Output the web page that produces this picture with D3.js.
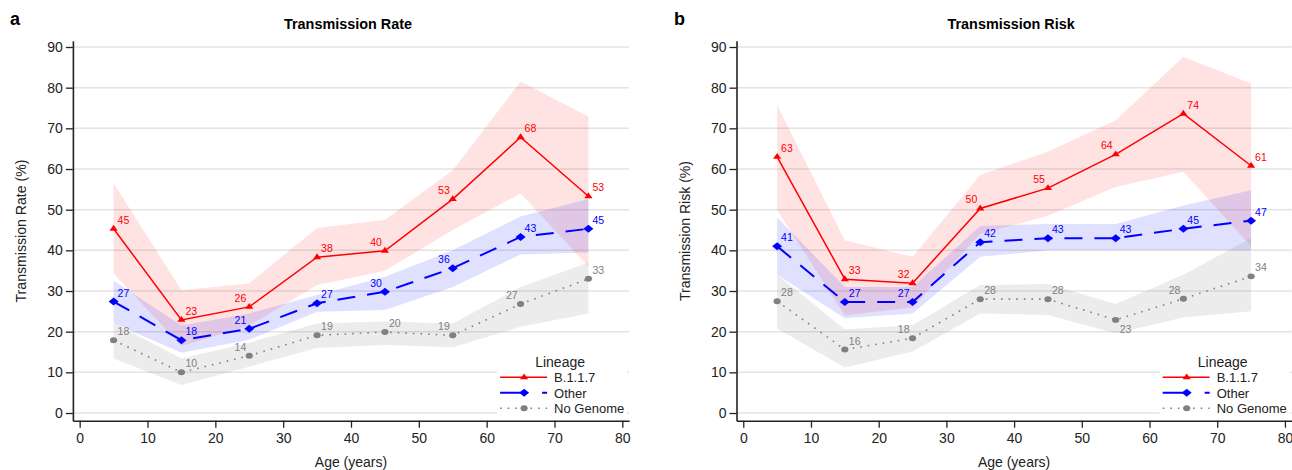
<!DOCTYPE html>
<html>
<head>
<meta charset="utf-8">
<script src="https://cdn.jsdelivr.net/npm/d3@7"></script>
<style>
  body { margin: 0; background: #fff; }
  svg { display: block; font-family: "Liberation Sans", Arial, sans-serif; }
</style>
</head>
<body>
<svg id="chart" width="1292" height="470"></svg>
<script>
// ages at which each group is plotted
var ages = [5, 15, 25, 35, 45, 55, 65, 75];
var yTicks = [0, 10, 20, 30, 40, 50, 60, 70, 80, 90];
var xTicks = [0, 10, 20, 30, 40, 50, 60, 70, 80];
var lineages = ["B.1.1.7", "Other", "No Genome"];

// panel a - transmission rate (%)
var rateB117   = [45.3, 22.9, 26.1, 38.3, 39.9, 52.6, 67.8, 53.3];
var rateB117Lo = [34.3, 16.5, 21.5, 31.5, 35.0, 45.0, 54.0, 36.0];
var rateB117Hi = [56.5, 30.2, 31.9, 45.5, 47.5, 59.7, 81.5, 72.9];
var rateOther   = [27.4, 17.9, 20.7, 27.0, 29.8, 35.6, 43.3, 45.3];
var rateOtherLo = [22.1, 14.8, 18.0, 24.9, 25.3, 31.0, 39.0, 39.5];
var rateOtherHi = [32.5, 21.5, 24.5, 29.0, 33.5, 40.0, 48.3, 52.6];
var rateNone   = [17.9, 10.0, 14.1, 19.1, 19.9, 19.1, 26.8, 33.0];
var rateNoneLo = [13.4, 6.9, 11.4, 16.0, 16.7, 16.2, 21.2, 24.5];
var rateNoneHi = [22.1, 13.4, 17.3, 22.0, 22.5, 22.0, 31.0, 37.0];

// panel b - transmission risk (%)
var riskB117   = [63.0, 32.9, 31.9, 50.3, 55.3, 63.6, 73.6, 60.8];
var riskB117Lo = [49.9, 24.0, 26.0, 44.0, 48.5, 55.6, 59.3, 41.0];
var riskB117Hi = [75.7, 42.5, 38.4, 58.5, 64.3, 72.0, 87.6, 81.0];
var riskOther   = [41.0, 27.3, 27.3, 42.0, 43.0, 43.0, 45.3, 47.3];
var riskOtherLo = [34.0, 23.3, 24.5, 38.4, 40.0, 40.0, 40.0, 40.0];
var riskOtherHi = [48.1, 31.0, 31.0, 46.0, 46.5, 46.5, 51.0, 54.8];
var riskNone   = [27.5, 15.6, 18.4, 28.0, 28.0, 22.9, 28.1, 33.6];
var riskNoneLo = [20.8, 11.2, 15.1, 24.5, 24.1, 19.6, 23.5, 25.0];
var riskNoneHi = [34.0, 20.6, 21.6, 31.5, 31.7, 26.8, 34.0, 43.0];

// where each value label sits relative to its point: r = up-right, l = up-left, b = below-right
var sideRate = [
  ["r","r","l","r","l","l","r","r"],
  ["r","r","l","r","l","l","r","r"],
  ["r","r","l","r","r","l","l","r"]
];
var sideRisk = [
  ["r","r","l","l","l","l","r","r"],
  ["r","r","l","r","r","r","r","r"],
  ["r","r","l","r","r","b","l","r"]
];

// markers are a bit wider than tall in the original, hence the x-scale
var styles = [
  { color: "#ff0000", band: "rgba(255,0,0,0.11)", width: 1.5, dash: null,
    symbol: d3.symbolTriangle, size: 20, shape: "scale(1.2,1)" },
  { color: "#0000ff", band: "rgba(0,0,255,0.12)", width: 2, dash: "18,12",
    symbol: d3.symbolSquare, size: 32, shape: "scale(1.25,1) rotate(45)" },
  { color: "#808080", band: "rgba(128,128,128,0.15)", width: 1.6, dash: "1.6,6",
    symbol: d3.symbolCircle, size: 28, shape: "scale(1.2,1)" }
];

var svg = d3.select("#chart");

function drawPanel(opt) {
  var x = d3.scaleLinear().domain([-1, 81]).range([opt.left, opt.right]);
  var y = d3.scaleLinear().domain([-1.89, 91.55]).range([420.7, 40.7]);
  var g = svg.append("g");

  // gridlines
  g.selectAll(".grid").data(yTicks).enter().append("line")
    .attr("x1", opt.left).attr("x2", opt.right)
    .attr("y1", d => y(d)).attr("y2", d => y(d))
    .attr("stroke", "#e3e3e3").attr("stroke-width", 1.5);

  // confidence bands
  opt.series.forEach(function(s, i) {
    var pts = ages.map((a, j) => ({ a: a, lo: s.lo[j], hi: s.hi[j] }));
    var area = d3.area().x(d => x(d.a)).y0(d => y(d.lo)).y1(d => y(d.hi));
    g.append("path").datum(pts).attr("d", area).attr("fill", styles[i].band);
  });

  // lines, markers, labels
  opt.series.forEach(function(s, i) {
    var st = styles[i];
    var pts = ages.map((a, j) => ({ a: a, v: s.v[j], side: opt.sides[i][j] }));
    var line = d3.line().x(d => x(d.a)).y(d => y(d.v));
    g.append("path").datum(pts).attr("d", line)
      .attr("fill", "none").attr("stroke", st.color)
      .attr("stroke-width", st.width)
      .attr("stroke-dasharray", st.dash);
    g.selectAll(null).data(pts).enter().append("path")
      .attr("d", d3.symbol().type(st.symbol).size(st.size))
      .attr("transform", d => "translate(" + x(d.a) + "," + y(d.v) + ") " + st.shape)
      .attr("fill", st.color);
    g.selectAll(null).data(pts).enter().append("text")
      .attr("x", d => x(d.a) + (d.side == "l" ? -3 : 4))
      .attr("y", d => y(d.v) + (d.side == "b" ? 13 : -5))
      .attr("text-anchor", d => d.side == "l" ? "end" : "start")
      .attr("font-size", 10.5)
      .attr("fill", st.color)
      .text(d => Math.round(d.v));
  });

  // axes
  var yAxis = g.append("g").attr("transform", "translate(" + opt.left + ",0)")
    .call(d3.axisLeft(y).tickValues(yTicks).tickSize(7).tickSizeOuter(0).tickPadding(3));
  var xAxis = g.append("g").attr("transform", "translate(0,420.7)")
    .call(d3.axisBottom(x).tickValues(xTicks).tickSize(7).tickSizeOuter(0).tickPadding(5));
  [yAxis, xAxis].forEach(function(ax) {
    ax.select(".domain").attr("stroke", "#222").attr("stroke-width", 1.6);
    ax.selectAll(".tick line").attr("stroke", "#222").attr("stroke-width", 1.3);
    ax.selectAll(".tick text").attr("font-size", 14).attr("fill", "#222")
      .attr("font-family", "Liberation Sans, Arial, sans-serif");
  });

  var cx = (opt.left + opt.right) / 2;
  g.append("text").attr("x", cx - 3).attr("y", 29).attr("text-anchor", "middle")
    .attr("font-size", 14.4).attr("font-weight", "bold").text(opt.title);
  g.append("text").attr("x", opt.letterX).attr("y", 25)
    .attr("font-size", 18).attr("font-weight", "bold").text(opt.letter);
  g.append("text").attr("transform", "translate(" + (opt.left - 47) + ",231) rotate(-90)")
    .attr("text-anchor", "middle").attr("font-size", 15.5).attr("fill", "#222")
    .attr("textLength", opt.yLabelLen).attr("lengthAdjust", "spacingAndGlyphs")
    .text(opt.yLabel);
  g.append("text").attr("x", cx).attr("y", 467).attr("text-anchor", "middle")
    .attr("font-size", 14).attr("fill", "#222").text("Age (years)");

  // legend
  var lx = opt.right - 132;
  var leg = g.append("g");
  leg.append("rect").attr("x", lx).attr("y", 352).attr("width", 130).attr("height", 62).attr("fill", "#fff");
  leg.append("text").attr("x", lx + 63).attr("y", 367).attr("text-anchor", "middle")
    .attr("font-size", 14).attr("fill", "#222").text("Lineage");
  lineages.forEach(function(name, i) {
    var st = styles[i];
    var ly = 377.3 + i * 15.5;
    leg.append("line").attr("x1", lx + 3).attr("x2", lx + 50).attr("y1", ly).attr("y2", ly)
      .attr("stroke", st.color).attr("stroke-width", st.width)
      .attr("stroke-dasharray", i == 1 ? "26,16,5,10" : st.dash);
    leg.append("path").attr("d", d3.symbol().type(st.symbol).size(st.size))
      .attr("transform", "translate(" + (lx + 27) + "," + ly + ") " + st.shape).attr("fill", st.color);
    leg.append("text").attr("x", lx + 57).attr("y", ly + 5)
      .attr("font-size", 13).attr("fill", "#222").text(name);
  });
}

drawPanel({
  left: 72.9, right: 629.1, letter: "a", letterX: 10, title: "Transmission Rate",
  yLabel: "Transmission Rate (%)", yLabelLen: 143, sides: sideRate,
  series: [
    { v: rateB117, lo: rateB117Lo, hi: rateB117Hi },
    { v: rateOther, lo: rateOtherLo, hi: rateOtherHi },
    { v: rateNone, lo: rateNoneLo, hi: rateNoneHi }
  ]
});

drawPanel({
  left: 736.5, right: 1291.7, letter: "b", letterX: 674, title: "Transmission Risk",
  yLabel: "Transmission Risk (%)", yLabelLen: 140, sides: sideRisk,
  series: [
    { v: riskB117, lo: riskB117Lo, hi: riskB117Hi },
    { v: riskOther, lo: riskOtherLo, hi: riskOtherHi },
    { v: riskNone, lo: riskNoneLo, hi: riskNoneHi }
  ]
});
</script>
</body>
</html>
